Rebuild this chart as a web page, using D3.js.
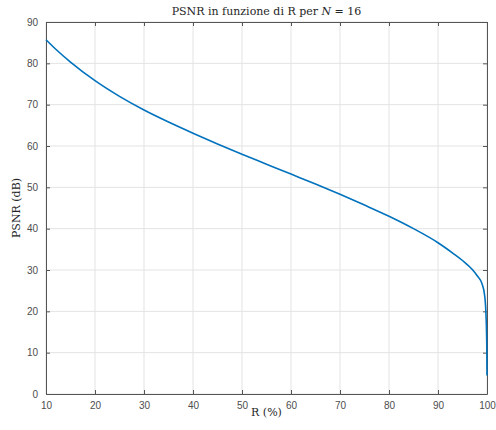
<!DOCTYPE html>
<html lang="it">
  <head>
    <meta charset="UTF-8" />
    <title>PSNR in funzione di R</title>
    <script src="https://d3js.org/d3.v7.min.js"></script>
    <style>
      body {
        margin: 0;
        background: #fff;
      }
      .tick text {
        font-family: "Liberation Sans", Arial, sans-serif;
        font-size: 10px;
        fill: #4d4d4d;
      }
      .serif {
        font-family: "DejaVu Serif", "Liberation Serif", serif;
        fill: #262626;
      }
    </style>
  </head>
  <body>
    <div id="chart"></div>
    <script>
      // compression ratio R (%) and PSNR (dB)
      const rValues = [10, 12, 15, 20, 25, 30, 35, 40, 45, 50, 55, 60, 65, 70, 75, 80, 85, 90, 93, 95, 97, 98, 99, 99.5, 99.8, 99.95, 100];
      const psnrValues = [85.7, 83.4, 80.3, 75.8, 72.0, 68.7, 65.8, 63.1, 60.5, 58.0, 55.6, 53.2, 50.8, 48.3, 45.7, 43.0, 40.0, 36.6, 34.1, 32.3, 30.1, 28.6, 26.6, 24.0, 19.0, 12.0, 4.5];
      const xTicks = [10, 20, 30, 40, 50, 60, 70, 80, 90, 100];
      const yTicks = [0, 10, 20, 30, 40, 50, 60, 70, 80, 90];

      const data = rValues.map((r, i) => ({r: r, psnr: psnrValues[i]}));

      const W = 496, H = 430;
      const margin = {top: 22, right: 9, bottom: 36, left: 46};
      const width = W - margin.left - margin.right;
      const height = H - margin.top - margin.bottom;

      const svg = d3.select("#chart").append("svg")
        .attr("width", W)
        .attr("height", H);

      const g = svg.append("g")
        .attr("transform", `translate(${margin.left},${margin.top})`);

      const x = d3.scaleLinear().domain([10, 100]).range([0, width]);
      const y = d3.scaleLinear().domain([0, 90]).range([height, 0]);

      // grid
      g.append("g")
        .selectAll("line")
        .data(xTicks)
        .join("line")
        .attr("x1", d => x(d)).attr("x2", d => x(d))
        .attr("y1", 0).attr("y2", height)
        .attr("stroke", "#e3e3e3");
      g.append("g")
        .selectAll("line")
        .data(yTicks)
        .join("line")
        .attr("x1", 0).attr("x2", width)
        .attr("y1", d => y(d)).attr("y2", d => y(d))
        .attr("stroke", "#e3e3e3");

      // axes, ticks pointing inward like matlab
      const axisColor = "#555";
      const styleAxis = sel => {
        sel.select(".domain").attr("stroke", axisColor);
        sel.selectAll(".tick line").attr("stroke", axisColor);
      };
      g.append("g")
        .attr("transform", `translate(0,${height})`)
        .call(d3.axisBottom(x).tickValues(xTicks).tickSizeInner(-4).tickSizeOuter(0).tickPadding(8))
        .call(styleAxis);
      g.append("g")
        .call(d3.axisLeft(y).tickValues(yTicks).tickSizeInner(-4).tickSizeOuter(0).tickPadding(8))
        .call(styleAxis);
      g.append("g")
        .call(d3.axisTop(x).tickValues(xTicks).tickSizeInner(-4).tickSizeOuter(0).tickFormat(""))
        .call(styleAxis);
      g.append("g")
        .attr("transform", `translate(${width},0)`)
        .call(d3.axisRight(y).tickValues(yTicks).tickSizeInner(-4).tickSizeOuter(0).tickFormat(""))
        .call(styleAxis);

      // curve
      const line = d3.line()
        .x(d => x(d.r))
        .y(d => y(d.psnr))
        .curve(d3.curveMonotoneX);
      g.append("path")
        .datum(data)
        .attr("fill", "none")
        .attr("stroke", "#0072bd")
        .attr("stroke-width", 1.6)
        .attr("d", line);

      // title
      const title = svg.append("text")
        .attr("class", "serif")
        .attr("x", margin.left + width / 2)
        .attr("y", 15)
        .attr("text-anchor", "middle")
        .attr("font-size", "11px");
      title.append("tspan").text("PSNR in funzione di R per ");
      title.append("tspan").attr("font-style", "italic").text("N");
      title.append("tspan").text(" = 16");

      // axis labels
      svg.append("text")
        .attr("class", "serif")
        .attr("x", margin.left + width / 2)
        .attr("y", H - 14)
        .attr("text-anchor", "middle")
        .attr("font-size", "11px")
        .text("R (%)");

      svg.append("text")
        .attr("class", "serif")
        .attr("transform", `translate(20,${margin.top + height / 2}) rotate(-90)`)
        .attr("text-anchor", "middle")
        .attr("font-size", "11px")
        .text("PSNR (dB)");
    </script>
  </body>
</html>
